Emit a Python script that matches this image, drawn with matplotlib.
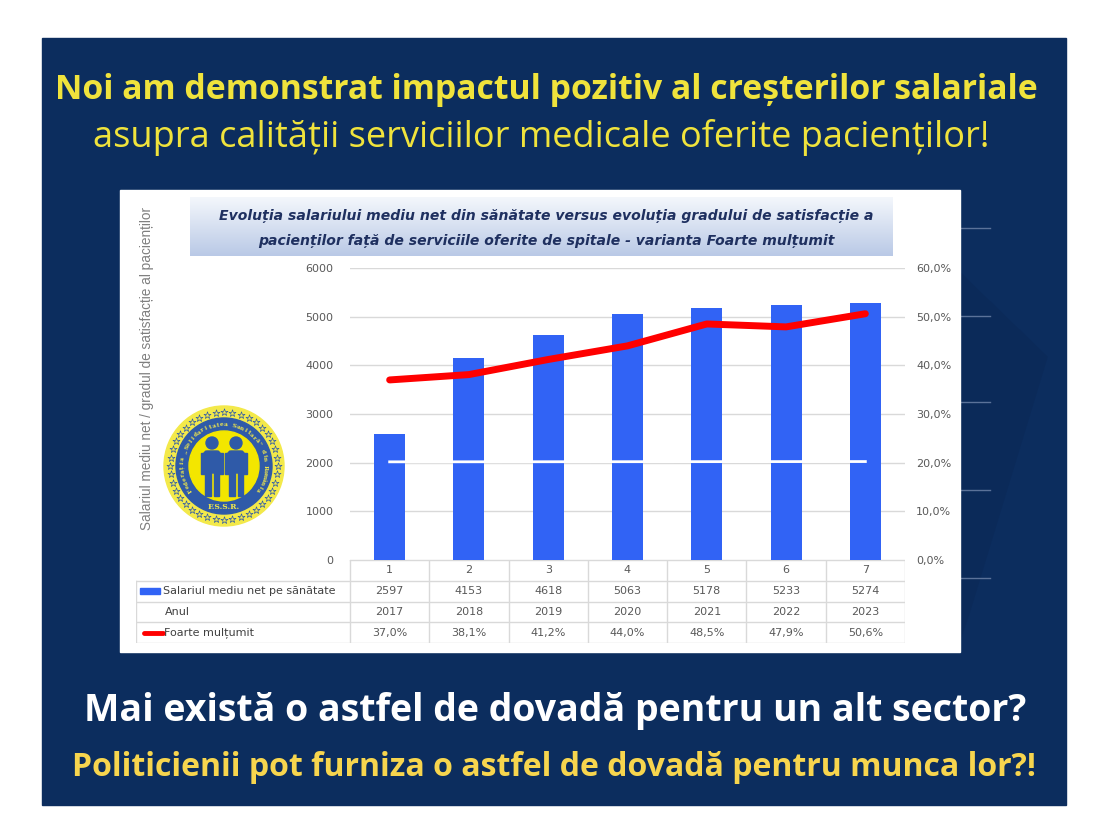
import numpy as np
import matplotlib
matplotlib.use("Agg")
from matplotlib import pyplot as plt
from matplotlib import patches

# Data

categories = ['1', '2', '3', '4', '5', '6', '7']
salariu = [2597, 4153, 4618, 5063, 5178, 5233, 5274]
anul = [2017, 2018, 2019, 2020, 2021, 2022, 2023]
multumit = [37.0, 38.1, 41.2, 44.0, 48.5, 47.9, 50.6]
row_labels = ['Salariul mediu net pe sănătate', 'Anul', 'Foarte mulțumit']
left_ticks = [0, 1000, 2000, 3000, 4000, 5000, 6000]
right_ticks = [0, 10, 20, 30, 40, 50, 60]

title_lines = ['Evoluția salariului mediu net din sănătate versus evoluția gradului de satisfacție a',
               'pacienților față de serviciile oferite de spitale - varianta Foarte mulțumit']
ylabel = 'Salariul mediu net / gradul de satisfacție al pacienților'
head1 = 'Noi am demonstrat impactul pozitiv al creșterilor salariale'
head2 = 'asupra calității serviciilor medicale oferite pacienților!'
foot1 = 'Mai există o astfel de dovadă pentru un alt sector?'
foot2 = 'Politicienii pot furniza o astfel de dovadă pentru munca lor?!'

W, H = 1120, 836
NAVY = '#0c2d5e'
BAR = '#3163f5'
GRID = '#d9d9d9'
TXT = '#595959'
NARROW = ['Liberation Sans Narrow', 'DejaVu Sans']
HEAD = ['Open Sans', 'DejaVu Sans']


def rect(x0, y0, x1, y1):
    """pixel box (top-left origin) -> figure fraction rect"""
    return [x0 / W, 1 - y1 / H, (x1 - x0) / W, (y1 - y0) / H]


fig = plt.figure(figsize=(W / 100, H / 100), dpi=100)
fig.patch.set_facecolor('white')

# background layer in pixel coordinates
bg = fig.add_axes([0, 0, 1, 1])
bg.axis('off')
bg.add_patch(patches.Rectangle((42, 38), 1024, 767, color=NAVY, zorder=0))
bg.add_patch(patches.Polygon([(960, 273), (1047, 357), (970, 610), (960, 640)],
                             closed=True, color='#0b2a59', zorder=0.5))
for yy in [228, 316, 402, 490, 578]:
    bg.plot([960, 990], [yy, yy], color='#5b7299', lw=1, zorder=1)

# white chart area
bg.add_patch(patches.Rectangle((120, 190), 840, 462, color='white', zorder=2))

# chart title box with gradient
grad = np.linspace(0, 1, 100).reshape(-1, 1)
bg.imshow(grad, extent=(190, 893, 256, 197), cmap=matplotlib.colors.LinearSegmentedColormap.from_list(
    'g', ['#f4f7fc', '#b9c9e6']), aspect='auto', zorder=3)
bg.set_xlim(0, W)
bg.set_ylim(H, 0)
for i, line in enumerate(title_lines):
    bg.text(546, 216 + 25 * i, line, ha='center', va='center', fontsize=10.1, style='italic',
            fontweight='bold', color='#1f3060', family=NARROW, zorder=4)

bg.text(147, 368, ylabel, rotation=90, ha='center', va='center', fontsize=9.8,
        color='#7f7f7f', family=['Liberation Sans', 'DejaVu Sans'], zorder=4)

# headings
bg.text(546, 90, head1, ha='center', va='center', fontsize=24.3, fontweight='bold',
        color='#f0e33c', family=HEAD, zorder=4)
bg.text(541, 138, head2, ha='center', va='center', fontsize=26,
        color='#f0e33c', family=HEAD, zorder=4)
bg.text(555, 711, foot1, ha='center', va='center', fontsize=27, fontweight='bold',
        color='white', family=HEAD, zorder=4)
bg.text(554, 768, foot2, ha='center', va='center', fontsize=23, fontweight='bold',
        color='#f7d54e', family=HEAD, zorder=4)

# logo
cx, cy = 224, 466
bg.add_patch(patches.Circle((cx, cy), 60, color='#f3e94a', zorder=5))
ang = np.linspace(0, 2 * np.pi, 40, endpoint=False)
bg.scatter(cx + 54 * np.cos(ang), cy + 54 * np.sin(ang), marker='*', s=28,
           facecolor='#f3e94a', edgecolor='#2f5aa8', linewidth=0.5, zorder=6)
bg.add_patch(patches.Circle((cx, cy), 48, color='#2f5aa8', zorder=7))
bg.add_patch(patches.Circle((cx, cy), 35, color='#f3e600', zorder=8))
ring = 'Federația „Solidaritatea Sanitară" din România'
angs = np.linspace(np.deg2rad(215), np.deg2rad(-35), len(ring))
for ch, a in zip(ring, angs):
    bg.text(cx + 41.5 * np.cos(a), cy - 41.5 * np.sin(a), ch, fontsize=4.2,
            rotation=np.rad2deg(a) - 90, ha='center', va='center', color='#f3e94a',
            fontweight='bold', family='DejaVu Serif', zorder=9)
bg.text(cx, cy + 41, 'F.S.S.R.', fontsize=5.5, ha='center', va='center', color='#f3e94a',
        fontweight='bold', family='DejaVu Serif', zorder=9)
for px in [cx - 12, cx + 12]:
    bg.add_patch(patches.Circle((px, cy - 23), 6, color='#2f5aa8', zorder=9))
    bg.add_patch(patches.FancyBboxPatch((px - 8, cy - 15), 16, 22, boxstyle='round,pad=0,rounding_size=3',
                                        color='#2f5aa8', zorder=9))
    bg.add_patch(patches.Rectangle((px - 7, cy + 5), 5.5, 25, color='#2f5aa8', zorder=9))
    bg.add_patch(patches.Rectangle((px + 1.5, cy + 5), 5.5, 25, color='#2f5aa8', zorder=9))
    bg.add_patch(patches.Rectangle((px - 11, cy - 13), 4, 21, color='#2f5aa8', zorder=9))
    bg.add_patch(patches.Rectangle((px + 7, cy - 13), 4, 21, color='#2f5aa8', zorder=9))

# main chart
x = np.arange(len(categories))
ax = fig.add_axes(rect(350, 268, 905, 560))
ax.set_facecolor('none')
ax.bar(x, salariu, width=0.39, color=BAR, zorder=2)
ax.plot(x, anul, color='white', lw=2, zorder=3)
ax.set_xlim(-0.5, len(categories) - 0.5)
ax.set_ylim(0, 6000)
ax.set_yticks(left_ticks)
ax.yaxis.grid(True, color=GRID, lw=1, zorder=0)
ax.set_axisbelow(True)
ax.set_xticks([])
for s in ax.spines.values():
    s.set_visible(False)
ax.tick_params(axis='y', length=0, pad=12, labelsize=8, labelcolor=TXT)
for lab in ax.get_yticklabels():
    lab.set_family(NARROW)

ax2 = ax.twinx()
ax2.plot(x, multumit, color='red', lw=5, solid_capstyle='round', solid_joinstyle='round', zorder=4)
ax2.set_ylim(0, 60)
ax2.set_yticks(right_ticks)
ax2.set_yticklabels([f'{v:.1f}%'.replace('.', ',') for v in right_ticks])
for s in ax2.spines.values():
    s.set_visible(False)
ax2.tick_params(axis='y', length=0, pad=8, labelsize=8, labelcolor=TXT)
for lab in ax2.get_yticklabels():
    lab.set_family(NARROW)

# data table below the chart
cat_w = (905 - 350) / len(categories)
x_left = -0.5 - (350 - 136) / cat_w
tab = fig.add_axes(rect(136, 560, 905, 643))
tab.set_xlim(x_left, len(categories) - 0.5)
tab.set_ylim(4, 0)
tab.axis('off')
for r in range(5):
    x0 = -0.5 if r == 0 else x_left
    tab.plot([x0, len(categories) - 0.5], [r, r], color=GRID, lw=1)
for k in range(len(categories) + 1):
    tab.plot([k - 0.5, k - 0.5], [0, 4], color=GRID, lw=1)
tab.plot([x_left, x_left], [1, 4], color=GRID, lw=1)

cell_font = dict(ha='center', va='center', fontsize=8, color=TXT, family=NARROW)
rows = [salariu, anul, [f'{v:.1f}%'.replace('.', ',') for v in multumit]]
for i, c in enumerate(categories):
    tab.text(x[i], 0.5, c, **cell_font)
    for r, vals in enumerate(rows):
        tab.text(x[i], r + 1.5, str(vals[i]), **cell_font)

key_w = 20 / cat_w
tab.add_patch(patches.Rectangle((x_left + 4 / cat_w, 1.35), key_w, 0.3, color=BAR))
tab.plot([x_left + 8 / cat_w, x_left + 27 / cat_w], [3.5, 3.5], color='red', lw=3.5,
         solid_capstyle='round')
offs = [27, 29, 28]
for r, lab in enumerate(row_labels):
    tab.text(x_left + offs[r] / cat_w, r + 1.5, lab, ha='left', va='center', fontsize=8,
             color='#404040', family=NARROW)

fig.savefig('out.png', dpi=100, facecolor='white')
